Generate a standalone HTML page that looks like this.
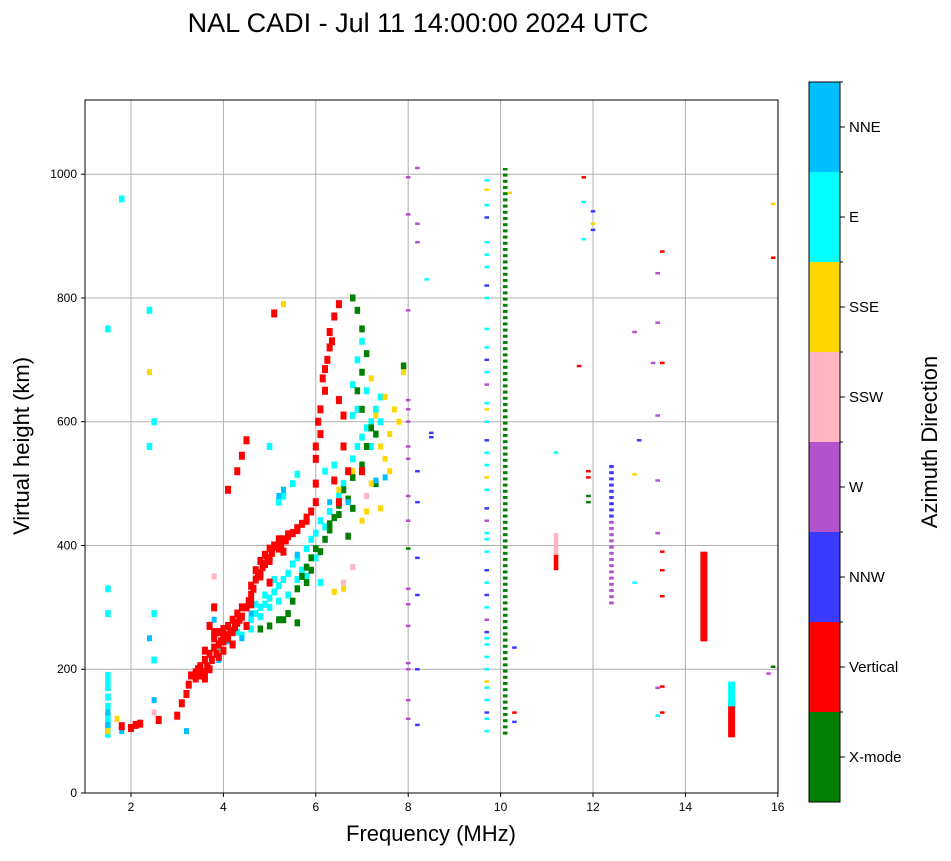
<!DOCTYPE html>
<html><head><meta charset="utf-8"><style>
body{margin:0;background:#fff;font-family:"Liberation Sans",sans-serif}
</style></head><body>
<svg id="c" width="951" height="856" xmlns="http://www.w3.org/2000/svg" font-family="Liberation Sans, sans-serif">
<text x="418" y="32" font-size="27" text-anchor="middle">NAL CADI - Jul 11 14:00:00 2024 UTC</text>
<g id="grid"></g>
<g id="marks"></g>
<rect x="85" y="100" width="693" height="693" fill="none" stroke="#000" stroke-width="1"/>
<g id="axes"></g>
<text x="431" y="841" font-size="22" text-anchor="middle">Frequency (MHz)</text>
<text transform="translate(29,446) rotate(-90)" font-size="22" text-anchor="middle">Virtual height (km)</text>
<g id="cbar"></g>
<text transform="translate(937,442) rotate(-90)" font-size="22" text-anchor="middle">Azimuth Direction</text>
</svg>
<script>
const dirNames=["X-mode","Vertical","NNW","W","SSW","SSE","E","NNE"];
const dirColors=["#008000","#ff0000","#3a3aff","#b452cd","#ffb6c1","#ffd700","#00ffff","#00bfff"];
const xTicks=[2,4,6,8,10,12,14,16];
const yTicks=[0,200,400,600,800,1000];
// trace observations per direction
const vertF=[2.0,2.1,2.2,1.8,2.6,3.0,3.1,3.2,3.25,3.3,3.4,3.5,3.5,3.6,3.6,3.7,3.7,3.8,3.8,3.9,3.9,4.0,4.0,4.1,4.1,4.2,4.3,4.3,4.4,4.5,4.5,4.6,4.6,4.7,4.7,4.8,4.8,4.9,4.9,5.0,5.0,5.1,5.2,5.2,5.3,5.4,5.5,5.6,5.7,5.8,5.9,6.0,6.0,6.0,6.1,6.1,6.2,6.2,6.3,6.3,6.4,6.5,6.6,6.6,6.7,6.5,7.0,6.5,4.1,4.3,4.4,4.5,5.1,3.7,3.8,4.2,4.0,6.0,6.4,3.6,3.9,4.6,5.0,5.3,3.5,3.4,3.55,3.65,3.75,3.85,3.95,4.05,4.15,4.25,4.35,4.55,4.65,4.75,4.85,4.95,5.05,5.15,5.25,5.35,3.45,3.6,3.8,4.0,4.2,4.4,4.6,4.8,5.0,5.2,5.4,5.6,5.8,6.05,6.15,6.25,6.35];
const vertH=[105,110,112,108,118,125,145,160,175,190,195,190,205,215,195,225,200,235,250,240,260,245,265,250,270,260,275,290,285,300,270,320,335,345,360,355,375,385,370,395,380,400,405,395,410,415,420,425,435,445,455,470,500,540,580,620,650,685,720,745,770,790,560,610,520,635,520,470,490,520,545,570,775,270,300,240,230,560,505,185,220,310,340,390,200,185,195,205,215,225,245,255,262,268,280,310,330,350,365,378,388,398,402,408,200,230,260,255,280,300,305,350,375,410,418,428,440,600,670,700,730];
const eF=[1.5,1.5,1.5,1.5,1.5,1.5,1.5,3.9,4.1,4.3,4.4,4.5,4.6,4.7,4.8,4.9,5.0,5.1,5.2,5.3,5.4,5.5,5.6,5.8,5.9,6.0,6.1,6.3,6.5,6.6,6.7,6.8,6.9,7.0,7.1,7.2,7.3,7.4,6.8,6.9,7.0,6.2,6.4,5.3,5.2,5.5,5.6,6.9,7.2,5.8,6.1,5.0,2.5,2.5,2.5,2.4,1.8,2.4,1.5,4.7,4.9,5.1,1.5,1.5,1.5,1.5,4.2,4.6,4.8,5.0,5.2,5.4,5.6,5.7,6.0,6.2,6.8,7.1,7.4];
const eH=[95,115,140,170,190,290,330,235,250,260,255,270,280,290,300,305,315,325,335,345,355,370,380,395,410,420,440,455,480,500,520,540,560,575,590,600,620,640,660,700,730,520,530,480,470,500,515,620,560,350,340,560,290,215,600,560,960,780,750,305,320,345,105,125,155,180,240,265,285,300,310,320,345,360,380,430,610,650,600];
const xF=[4.8,5.0,5.2,5.4,5.5,5.6,5.7,5.8,5.9,6.0,6.2,6.3,6.4,6.5,6.6,6.8,7.0,7.1,7.2,7.0,6.9,7.0,7.1,7.0,6.9,6.8,7.9,6.3,5.9,7.3,7.3,6.8,5.6,6.7,5.3,5.8,6.1,6.5,6.7];
const xH=[265,270,280,290,310,330,350,365,380,395,410,425,445,465,490,510,530,560,590,620,650,680,710,750,780,800,690,435,360,500,580,460,275,415,280,340,390,450,475];
const sseF=[7.4,7.2,7.5,7.6,7.3,7.8,6.8,6.5,6.6,6.4,7.0,7.9,5.3,7.2,7.5,1.5,1.7,2.4,7.1,7.7,7.4,7.6];
const sseH=[460,500,540,580,610,600,520,490,330,325,440,680,790,670,640,100,120,680,455,620,560,520];
const sswF=[6.8,6.6,7.1,2.5,3.8];
const sswH=[365,340,480,130,350];
const nneF=[1.5,1.5,2.4,4.4,3.8,5.3,5.2,6.3,6.7,7.3,7.5,1.8,3.2,2.5,4.6,5.6,3.9,4.1];
const nneH=[110,130,250,250,280,490,480,470,470,505,510,100,100,150,290,385,215,245];
// sparse single-bin echoes in high-frequency columns
const wF=[8.0,8.0,8.0,8.0,8.0,8.0,8.0,8.0,8.0,8.0,8.0,8.0,8.0,8.0,8.0,8.0,8.0,8.2,8.2,8.2,15.8,13.4,13.4,13.4,13.4,13.4,13.4,12.9,13.3,9.7,9.7,9.7];
const wH=[120,150,200,210,270,305,330,440,480,540,560,600,620,635,780,935,995,920,890,1010,193,170,420,505,610,760,840,745,695,280,440,660];
const nnwF=[8.2,8.2,8.2,8.2,8.2,8.2,8.5,8.5,12.0,12.0,13.0,10.3,10.3,9.7,9.7,9.7,9.7,9.7,9.7,9.7,9.7,9.7];
const nnwH=[110,200,320,380,470,520,575,582,910,940,570,235,115,130,260,320,360,460,570,700,820,930];
const redF=[11.8,11.7,11.9,11.9,13.5,13.5,13.5,13.5,13.5,13.5,13.5,15.9,10.3];
const redH=[995,690,520,510,875,695,390,360,318,130,172,865,130];
const cyanF=[11.8,11.8,11.2,12.9,13.4,9.7,9.7,9.7,9.7,9.7,9.7,9.7,9.7,9.7,9.7,9.7,9.7,9.7,9.7,9.7,9.7,9.7,9.7,9.7,9.7,9.7,8.4,9.7,9.7,9.7,9.7,9.7,9.7];
const cyanH=[955,895,550,340,125,100,150,170,200,220,250,300,340,390,420,490,550,600,630,680,750,800,850,890,950,990,830,120,240,410,530,720,870];
const goldF=[12.9,12.0,15.9,10.2,9.7,9.7,9.7,9.7];
const goldH=[515,920,952,970,180,510,620,975];
const greenF=[15.9,11.9,11.9,8.0];
const greenH=[204,480,470,395];
// range-type echo columns (frequency, low km, high km, direction index)
const colF=[10.1,14.4,15.0,15.0,12.4,12.4,11.2,11.2];
const colLo=[90,245,90,140,300,440,360,385];
const colHi=[1010,390,150,180,440,535,385,420];
const colDir=[0,1,1,6,3,2,1,4];

const X=f=>84.8+(f-1)*46.2, Y=h=>793-h*0.6188;
const NS="http://www.w3.org/2000/svg";
function mk(tag,attrs,parent){const e=document.createElementNS(NS,tag);for(const k in attrs)e.setAttribute(k,attrs[k]);document.getElementById(parent).appendChild(e);return e;}
xTicks.forEach(t=>{
  const g=mk("line",{x1:X(t),x2:X(t),y1:100,y2:793,stroke:"#b0b0b0","stroke-width":1},"grid");
  
  
  mk("line",{x1:X(t),x2:X(t),y1:793,y2:797,stroke:"#000"},"axes");
  const l=mk("text",{x:X(t),y:811,"font-size":12,"text-anchor":"middle"},"axes");l.textContent=t;
  
  
});
yTicks.forEach(t=>{
  const g=mk("line",{x1:85,x2:778,y1:Y(t),y2:Y(t),stroke:"#b0b0b0","stroke-width":1},"grid");
  
  
  mk("line",{x1:81,x2:85,y1:Y(t),y2:Y(t),stroke:"#000"},"axes");
  const l=mk("text",{x:77,y:Y(t)+4,"font-size":12,"text-anchor":"end"},"axes");l.textContent=t;
  
  
});
function series(F,H,d,hpx,wpx){
  F.forEach((f,i)=>{
    const r=mk("rect",{x:X(f)-wpx/2,y:Y(H[i])-hpx/2,width:wpx,height:hpx,fill:dirColors[d]},"marks");
    
    
  });
}
series(eF,eH,6,7,5.5);series(xF,xH,0,7,5.5);series(sseF,sseH,5,6,5);series(sswF,sswH,4,6,5);series(nneF,nneH,7,6,5);series(vertF,vertH,1,8,6);
series(wF,wH,3,2.5,4.6);series(nnwF,nnwH,2,2.5,4.6);series(redF,redH,1,2.5,4.6);series(cyanF,cyanH,6,2.5,4.6);series(goldF,goldH,5,2.5,4.6);series(greenF,greenH,0,2.5,4.6);
const defs=mk("defs",{},"marks");
dirColors.forEach((c,i)=>{
  const p=document.createElementNS(NS,"pattern");
  p.setAttribute("id","pat"+i);p.setAttribute("width",10);p.setAttribute("height",6.2);p.setAttribute("patternUnits","userSpaceOnUse");
  const r=document.createElementNS(NS,"rect");r.setAttribute("width",10);r.setAttribute("height",3);r.setAttribute("fill",c);
  p.appendChild(r);defs.appendChild(p);
});
colF.forEach((f,i)=>{
  const fill=(f===10.1||f===12.4)?"url(#pat"+colDir[i]+")":dirColors[colDir[i]];
  const w=(f>=14)?7:4.6;
  const r=mk("rect",{x:X(f)-w/2,y:Y(colHi[i]),width:w,height:Y(colLo[i])-Y(colHi[i]),fill:fill},"marks");
  
  
});
dirNames.forEach((n,i)=>{
  const y0=802-(i+1)*90;
  const r=mk("rect",{x:809,y:y0,width:31,height:90,fill:dirColors[i]},"cbar");
  
  
  mk("line",{x1:840,x2:845,y1:y0+45,y2:y0+45,stroke:"#000"},"cbar");
  mk("line",{x1:840,x2:843,y1:y0,y2:y0,stroke:"#000"},"cbar");
  const t=mk("text",{x:849,y:y0+50,"font-size":15},"cbar");t.textContent=n;
  
  
});
mk("rect",{x:809,y:82,width:31,height:720,fill:"none",stroke:"#000"},"cbar");
</script>
</body></html>
